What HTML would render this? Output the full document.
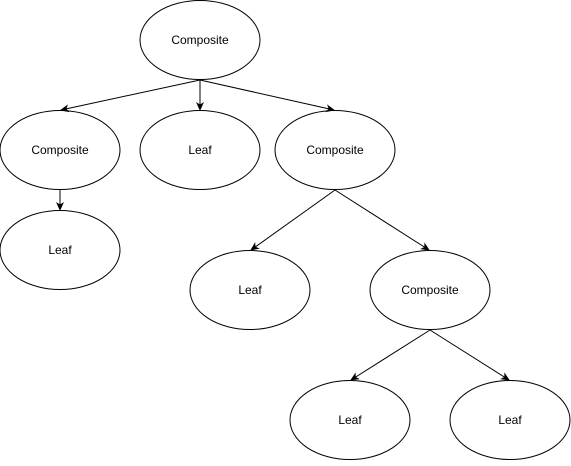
<!DOCTYPE html>
<html><head><style>body{margin:0;background:#fff}</style></head><body>
<svg width="571" height="461" xmlns="http://www.w3.org/2000/svg" font-family="Liberation Sans, sans-serif" font-size="12">
<defs><marker id="a" markerWidth="10" markerHeight="10" refX="8" refY="5" orient="auto" markerUnits="userSpaceOnUse"><path d="M0,1 L9,5 L0,9 L2.5,5 z" fill="#000"/></marker></defs>
<g fill="#fff" stroke="#000" stroke-width="1">
<ellipse cx="200" cy="40" rx="60" ry="39.5"/>
<ellipse cx="60" cy="150" rx="60" ry="39.5"/>
<ellipse cx="200" cy="150" rx="60" ry="39.5"/>
<ellipse cx="335" cy="150" rx="60" ry="39.5"/>
<ellipse cx="60" cy="250" rx="60" ry="39.5"/>
<ellipse cx="250" cy="290" rx="60" ry="39.5"/>
<ellipse cx="430" cy="290" rx="60" ry="39.5"/>
<ellipse cx="350" cy="420" rx="60" ry="39.5"/>
<ellipse cx="510" cy="420" rx="60" ry="39.5"/>
</g>
<g stroke="#000" marker-end="url(#a)">
<line x1="200" y1="80" x2="61" y2="110"/>
<line x1="200" y1="80" x2="200" y2="110"/>
<line x1="200" y1="80" x2="334" y2="110"/>
<line x1="60" y1="190" x2="60" y2="210"/>
<line x1="335" y1="190" x2="251" y2="250"/>
<line x1="335" y1="190" x2="429" y2="250"/>
<line x1="430" y1="330" x2="351" y2="380"/>
<line x1="430" y1="330" x2="509" y2="380"/>
</g>
<g text-anchor="middle" fill="#000">
<text x="200" y="44">Composite</text>
<text x="60" y="154">Composite</text>
<text x="200" y="154">Leaf</text>
<text x="335" y="154">Composite</text>
<text x="60" y="254">Leaf</text>
<text x="250" y="294">Leaf</text>
<text x="430" y="294">Composite</text>
<text x="350" y="424">Leaf</text>
<text x="510" y="424">Leaf</text>
</g>
</svg>
</body></html>
